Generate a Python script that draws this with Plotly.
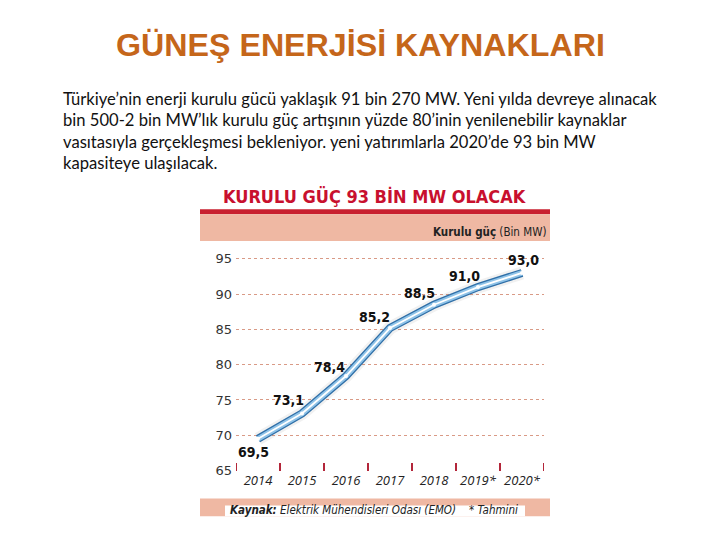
import plotly.graph_objects as go

# ---------------- data ----------------
years = ["2014", "2015", "2016", "2017", "2018", "2019*", "2020*"]
capacity = [69.5, 73.1, 78.4, 85.2, 88.5, 91.0, 93.0]
value_labels = ["69,5", "73,1", "78,4", "85,2", "88,5", "91,0", "93,0"]
y_ticks = [65, 70, 75, 80, 85, 90, 95]

slide_title = "GÜNEŞ ENERJİSİ KAYNAKLARI"
paragraph = [
    "Türkiye’nin enerji kurulu gücü yaklaşık 91 bin 270 MW. Yeni yılda devreye alınacak",
    "bin 500-2 bin MW’lık kurulu güç artışının yüzde 80’inin yenilenebilir kaynaklar",
    "vasıtasıyla gerçekleşmesi bekleniyor. yeni yatırımlarla 2020’de 93 bin MW",
    "kapasiteye ulaşılacak.",
]
chart_title = "KURULU GÜÇ 93 BİN MW OLACAK"
unit_text = "<b>Kurulu güç</b> (Bin MW)"
source_text = "<b><i>Kaynak:</i></b><i> Elektrik Mühendisleri Odası (EMO)</i>"
note_text = "<i>* Tahmini</i>"

# ---------------- layout helpers (page pixels -> paper) ----------------
W, H = 720, 540
OFF = 8  # default page margin around the figure
def px(x):
    return (x - OFF) / W
def py(y):
    return 1 - (y - OFF) / H

NARROW = "DejaVu Sans Condensed, Liberation Sans Narrow, sans-serif"
label_shift = [(-5, -13), (-14, 13), (-17, 9), (-16, 11), (-15, 12), (-14, 11), (1, 13)]
TICK_COLOR = "#B3263A"

plot_x = [px(236), px(544)]
plot_y = [py(477), py(255)]
sh_dx, sh_dy = 2, 4

fig = go.Figure()

# invisible trace so the base (visible) axes are drawn
fig.add_trace(go.Scatter(x=years, y=capacity, mode="lines", xaxis="x", yaxis="y",
                         line=dict(color="rgba(0,0,0,0)", width=0),
                         hoverinfo="skip", showlegend=False))
# soft shadow (shifted overlay axes)
fig.add_trace(go.Scatter(x=years, y=capacity, mode="lines", xaxis="x2", yaxis="y2",
                         line=dict(color="rgba(120,120,120,0.10)", width=13),
                         hoverinfo="skip", showlegend=False))
fig.add_trace(go.Scatter(x=years, y=capacity, mode="lines", xaxis="x2", yaxis="y2",
                         line=dict(color="rgba(120,120,120,0.12)", width=8),
                         hoverinfo="skip", showlegend=False))
# tube line
fig.add_trace(go.Scatter(x=years, y=capacity, mode="lines", xaxis="x3", yaxis="y3",
                         line=dict(color="#2F6FA8", width=8),
                         hoverinfo="skip", showlegend=False))
fig.add_trace(go.Scatter(x=years, y=capacity, mode="lines", xaxis="x3", yaxis="y3",
                         line=dict(color="#8FC3E8", width=5.5),
                         hoverinfo="skip", showlegend=False))
fig.add_trace(go.Scatter(x=years, y=capacity, mode="lines", xaxis="x3", yaxis="y3",
                         line=dict(color="white", width=1.8),
                         hoverinfo="skip", showlegend=False))
fig.add_trace(go.Scatter(x=years, y=capacity, mode="markers", xaxis="x3", yaxis="y3",
                         marker=dict(color="white", size=4),
                         hoverinfo="skip", showlegend=False))

yr = [64.95, 96]
xr = [-0.5, len(years) - 0.5]

fig.update_layout(
    width=W, height=H,
    margin=dict(l=0, r=0, t=0, b=0),
    paper_bgcolor="white", plot_bgcolor="rgba(0,0,0,0)",
    showlegend=False,
    xaxis=dict(domain=plot_x, type="category", categoryorder="array", categoryarray=years,
               range=xr, tickson="boundaries", ticks="inside", ticklen=8, tickwidth=2,
               tickcolor=TICK_COLOR, showgrid=False, showline=False, zeroline=False,
               tickangle=0,
               tickfont=dict(family="Open Sans, sans-serif", size=13, color="#222", style="italic")),
    yaxis=dict(domain=plot_y, range=yr, tickvals=y_ticks, ticks="", showline=False,
               zeroline=False, showgrid=True, griddash="dot", gridcolor="#D99A86", gridwidth=1,
               ticklabelstandoff=3,
               tickfont=dict(family="DejaVu Sans, sans-serif", size=13, color="#333")),
    xaxis2=dict(domain=[plot_x[0] + sh_dx / W, plot_x[1] + sh_dx / W], type="category",
                categoryorder="array", categoryarray=years, range=xr, overlaying="x",
                visible=False, anchor="y2"),
    yaxis2=dict(domain=[plot_y[0] - sh_dy / H, plot_y[1] - sh_dy / H], range=yr,
                overlaying="y", visible=False, anchor="x2"),
    xaxis3=dict(domain=plot_x, type="category", categoryorder="array", categoryarray=years,
                range=xr, overlaying="x", visible=False, anchor="y3"),
    yaxis3=dict(domain=plot_y, range=yr, overlaying="y", visible=False, anchor="x3"),
)

shapes = [
    dict(type="rect", xref="paper", yref="paper", x0=px(200), x1=px(550), y0=py(217), y1=py(212),
         fillcolor="#C8202F", line=dict(width=0), layer="below"),
    dict(type="rect", xref="paper", yref="paper", x0=px(200), x1=px(550), y0=py(244), y1=py(217),
         fillcolor="#EFB8A3", line=dict(width=0), layer="below"),
    dict(type="rect", xref="paper", yref="paper", x0=px(200), x1=px(550), y0=py(523), y1=py(505),
         fillcolor="#EFB8A3", line=dict(width=0), layer="below"),
    dict(type="rect", xref="paper", yref="paper", x0=px(225), x1=px(525), y0=py(523), y1=py(512),
         fillcolor="white", line=dict(width=0), layer="below"),
]
# outer boundary ticks (plotly omits the ticks at the two range ends)
for xb in (xr[0], xr[1]):
    shapes.append(dict(type="line", xref="x", yref="paper", x0=xb, x1=xb,
                       y0=plot_y[0], y1=plot_y[0] + 8 / H,
                       line=dict(color=TICK_COLOR, width=2)))
fig.update_layout(shapes=shapes)

ann = []
ann.append(dict(text=f"<b>{slide_title}</b>", x=px(360), y=py(45), xref="paper", yref="paper",
                showarrow=False, xanchor="center", yanchor="middle",
                font=dict(family="Liberation Sans, Arial, sans-serif", size=32.2, color="#C5661A")))
for i, line in enumerate(paragraph):
    ann.append(dict(text=line, x=px(61), y=py(100 + 21.7 * i), xref="paper", yref="paper",
                    showarrow=False, xanchor="left", yanchor="middle",
                    font=dict(family="Lato, sans-serif", size=16.6, color="#111")))
ann.append(dict(text=f"<b>{chart_title}</b>", x=px(375), y=py(199), xref="paper", yref="paper",
                showarrow=False, xanchor="center", yanchor="middle",
                font=dict(family=NARROW, size=18, color="#C8102E")))
ann.append(dict(text=unit_text, x=px(548), y=py(235), xref="paper", yref="paper",
                showarrow=False, xanchor="right", yanchor="middle",
                font=dict(family=NARROW, size=11.5, color="#222")))
ann.append(dict(text=source_text, x=px(228), y=py(517), xref="paper", yref="paper",
                showarrow=False, xanchor="left", yanchor="middle",
                font=dict(family=NARROW, size=11.5, color="#222")))
ann.append(dict(text=note_text, x=px(520), y=py(517), xref="paper", yref="paper",
                showarrow=False, xanchor="right", yanchor="middle",
                font=dict(family=NARROW, size=11.5, color="#222")))
for i, (v, lab, (dx, dy)) in enumerate(zip(capacity, value_labels, label_shift)):
    ann.append(dict(text=f"<b>{lab}</b>", x=i, y=v, xref="x3", yref="y3", showarrow=False,
                    xanchor="center", yanchor="middle", xshift=dx, yshift=dy,
                    font=dict(family=NARROW, size=14, color="#111")))
fig.update_layout(annotations=ann)

fig.write_html("out.html", config={"displayModeBar": False})
